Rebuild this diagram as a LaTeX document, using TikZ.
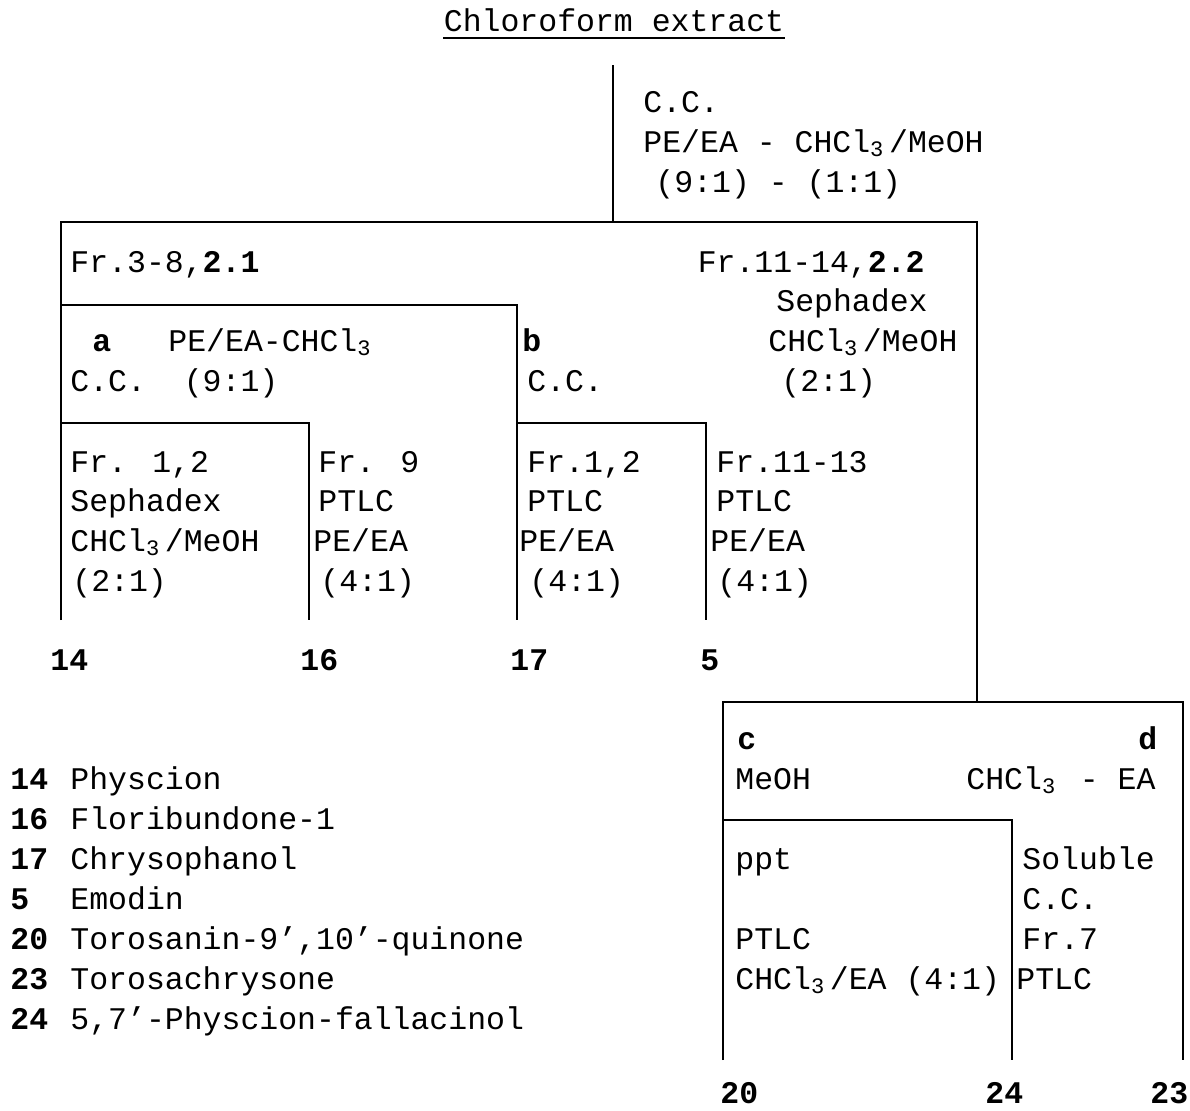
\documentclass[tikz,border=0pt]{standalone}
\usepackage{fontspec}
\newfontfamily\mono{Liberation Mono}
\newcommand\csub{\makebox[0.6em][l]{\textsubscript{3}}}
\newcommand\prm{\char"2019\relax}
\begin{document}
\begin{tikzpicture}[x=0.5pt,y=-0.5pt,
  txt/.style={anchor=base west,inner sep=0pt,font=\mono\fontsize{15.75}{18}\selectfont},
  txtr/.style={txt,anchor=base east},
  bnum/.style={txt,font=\mono\bfseries\fontsize{15.75}{18}\selectfont},
  ln/.style={line width=1.1pt}]
\useasboundingbox (0,0) rectangle (1190,1110);

% title
\node[txt,anchor=base] (title) at (614,31) {Chloroform extract};
\draw[line width=0.8pt] ([yshift=-3.5pt]title.base west) -- ([yshift=-3.5pt]title.base east);

% junction coordinates
\coordinate (c0) at (613,65);  \coordinate (c1) at (613,222);
\coordinate (L0) at (61,222);  \coordinate (R0) at (977,222);
\coordinate (La) at (61,620);  \coordinate (R1) at (977,702);
\coordinate (L1) at (61,305);  \coordinate (B0) at (517,305); \coordinate (Bb) at (517,620);
\coordinate (L2) at (61,423);  \coordinate (A2) at (309,423); \coordinate (A2b) at (309,620);
\coordinate (B2) at (517,423); \coordinate (D2) at (706,423); \coordinate (D2b) at (706,620);
\coordinate (P0) at (723,702); \coordinate (Q0) at (1183,702);
\coordinate (P1) at (723,1060); \coordinate (Q1) at (1183,1060);
\coordinate (P2) at (723,820); \coordinate (S0) at (1012,820); \coordinate (S1) at (1012,1060);

% connectors
\draw[ln] (c0) -- (c1);
\draw[ln] (La) -- (L0) -- (R0) -- (R1);
\draw[ln] (L1) -- (B0) -- (Bb);
\draw[ln] (L2) -- (A2) -- (A2b);
\draw[ln] (B2) -- (D2) -- (D2b);
\draw[ln] (P1) -- (P0) -- (Q0) -- (Q1);
\draw[ln] (P2) -- (S0) -- (S1);

% top step
\node[txt] (t1) at (643,112) {C.C.};
\node[txt] (t2) at (643,152) {PE/EA - CHCl\csub/MeOH};
\node[txt] (t3) at (655,192) {(9:1) - (1:1)};

% level 1
\node[txt] (f38) at (70,272) {Fr.3-8,\textbf{2.1}};
\node[txtr] (f1114) at (925,272) {Fr.11-14,\textbf{2.2}};
\node[txtr] (seph) at (928,311) {Sephadex};
\node[txt] (cm) at (768,351) {CHCl\csub/MeOH};
\node[txt] (r21) at (781,391) {(2:1)};

% level 2
\node[bnum] (a) at (92,351) {a};
\node[txt] (aeluent) at (168,351) {PE/EA-CHCl\csub};
\node[txt] (acc) at (70,391) {C.C.\ \ (9:1)};
\node[bnum] (b) at (522,351) {b};
\node[txt] (bcc) at (527,391) {C.C.};

% level 3 columns
\node[txt] (a1r1) at (70,472) {Fr. 1,2};
\node[txt] (a1r2) at (70,511) {Sephadex};
\node[txt] (a1r3) at (70,551) {CHCl\csub/MeOH};
\node[txt] (a1r4) at (72,591) {(2:1)};

\node[txt] (a2r1) at (318,472) {Fr. 9};
\node[txt] (a2r2) at (318,511) {PTLC};
\node[txt] (a2r3) at (313,551) {PE/EA};
\node[txt] (a2r4) at (320,591) {(4:1)};

\node[txt] (b1r1) at (527,472) {Fr.1,2};
\node[txt] (b1r2) at (527,511) {PTLC};
\node[txt] (b1r3) at (519,551) {PE/EA};
\node[txt] (b1r4) at (529,591) {(4:1)};

\node[txt] (b2r1) at (716,472) {Fr.11-13};
\node[txt] (b2r2) at (716,511) {PTLC};
\node[txt] (b2r3) at (710,551) {PE/EA};
\node[txt] (b2r4) at (717,591) {(4:1)};

% results
\node[bnum] (n14) at (50,670) {14};
\node[bnum] (n16) at (300,670) {16};
\node[bnum] (n17) at (510,670) {17};
\node[bnum] (n5) at (700,670) {5};

% lower right
\node[bnum] (c) at (737,749) {c};
\node[bnum] (d) at (1138,749) {d};
\node[txt] (meoh) at (735,789) {MeOH};
\node[txt] (ce) at (966,789) {CHCl\csub{} - EA};
\node[txt] (ppt) at (735,869) {ppt};
\node[txt] (sol) at (1022,869) {Soluble};
\node[txt] (scc) at (1022,909) {C.C.};
\node[txt] (pptlc) at (735,949) {PTLC};
\node[txt] (fr7) at (1022,949) {Fr.7};
\node[txt] (ceq) at (735,989) {CHCl\csub/EA (4:1)};
\node[txt] (sptlc) at (1016,989) {PTLC};

\node[bnum] (n20) at (720,1103) {20};
\node[bnum] (n24) at (985,1103) {24};
\node[bnum] (n23) at (1150,1103) {23};

% legend
\node[bnum] (k14) at (10,789) {14};
\node[txt] (v14) at (70,789) {Physcion};
\node[bnum] (k16) at (10,829) {16};
\node[txt] (v16) at (70,829) {Floribundone-1};
\node[bnum] (k17) at (10,869) {17};
\node[txt] (v17) at (70,869) {Chrysophanol};
\node[bnum] (k5) at (10,909) {5};
\node[txt] (v5) at (70,909) {Emodin};
\node[bnum] (k20) at (10,949) {20};
\node[txt] (v20) at (70,949) {Torosanin-9\prm,10\prm-quinone};
\node[bnum] (k23) at (10,989) {23};
\node[txt] (v23) at (70,989) {Torosachrysone};
\node[bnum] (k24) at (10,1029) {24};
\node[txt] (v24) at (70,1029) {5,7\prm-Physcion-fallacinol};
\end{tikzpicture}
\end{document}
